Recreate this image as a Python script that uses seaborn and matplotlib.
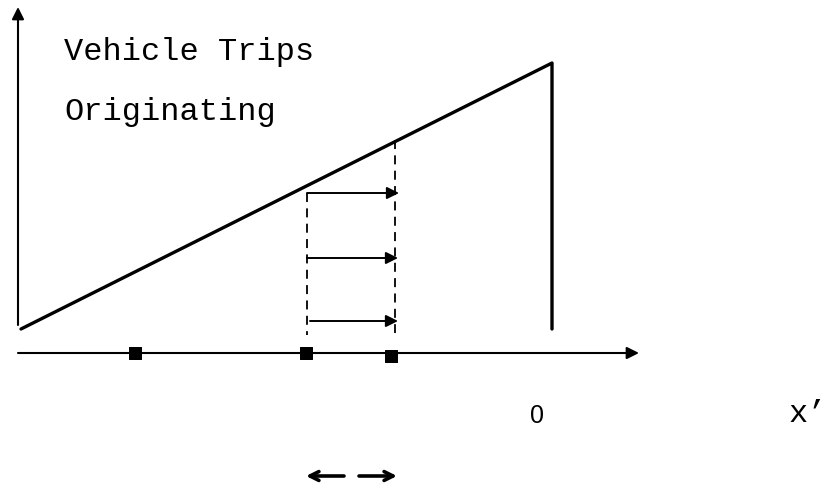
import matplotlib
matplotlib.use("Agg")
import matplotlib.pyplot as plt
import seaborn as sns
import pandas as pd

sns.set_theme(style="white")
plt.rcParams["font.family"] = ["Liberation Mono", "DejaVu Sans"]

# Trip-origin profile along the corridor (drawing units, y grows downward)
profile_x = [21, 552, 552]
profile_y = [329, 63, 329]

# Marked points on the x' axis
marker_x = [135, 306, 391]
marker_y = [353, 353, 356]

# Dashed strip boundaries: (x, top, bottom)
strip_x = [307, 395]
strip_top = [193, 140]
strip_bottom = [335, 333]

# Flow arrows across the strip
flow_y = [193, 258, 321]
flow_start = [307, 307, 310]
flow_end = [399, 398, 398]

title_lines = ["Vehicle Trips", "Originating"]
origin_label = "0"
axis_label = "x\u2019"

fig = plt.figure(figsize=(8.29, 4.87), dpi=100)
ax = fig.add_axes([0, 0, 1, 1])
ax.set_xlim(0, 829)
ax.set_ylim(487, 0)
ax.axis("off")

df = pd.DataFrame({"x": profile_x, "y": profile_y})
sns.lineplot(data=df, x="x", y="y", sort=False, estimator=None,
             color="black", lw=2.4, ax=ax)

# Axes with arrowheads
axis_kw = dict(arrowstyle="-|>", mutation_scale=18, lw=1.5, color="black",
               shrinkA=0, shrinkB=0)
ax.annotate("", xy=(18, 7), xytext=(18, 325), arrowprops=axis_kw)
ax.annotate("", xy=(639, 353), xytext=(18, 353), arrowprops=axis_kw)

sns.scatterplot(x=marker_x, y=marker_y, marker="s", s=80, color="black",
                edgecolor="black", ax=ax, zorder=5)

for x, t, b in zip(strip_x, strip_top, strip_bottom):
    ax.plot([x, x], [t, b], color="black", lw=1.3, ls=(0, (5, 3.5)))

for y, s, e in zip(flow_y, flow_start, flow_end):
    ax.annotate("", xy=(e, y), xytext=(s, y),
                arrowprops=dict(arrowstyle="-|>", mutation_scale=18, lw=1.4,
                                color="black", shrinkA=0, shrinkB=0))

ax.text(64, 52, title_lines[0], fontsize=23, va="center", ha="left",
        color="black")
ax.text(64, 112, title_lines[1], fontsize=23, va="center", ha="left",
        color="black")
ax.text(537, 416, origin_label, fontsize=18, va="center", ha="center",
        family="Liberation Sans", color="black")
ax.text(789, 414, axis_label, fontsize=23, va="center", ha="left",
        color="black")

# Width indicator below the axis
ind_kw = dict(arrowstyle="->", mutation_scale=16, lw=2.6, color="black",
              shrinkA=0, shrinkB=0)
ax.annotate("", xy=(306, 476), xytext=(344, 476), arrowprops=ind_kw)
ax.annotate("", xy=(397, 476), xytext=(359, 476), arrowprops=ind_kw)

fig.savefig("out.png", dpi=100, facecolor="white")
